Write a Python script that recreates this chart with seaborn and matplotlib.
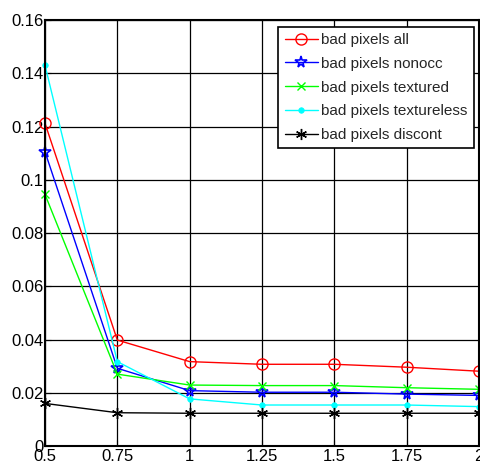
import matplotlib
matplotlib.use("Agg")
import matplotlib.pyplot as plt
import seaborn as sns
import pandas as pd

x = [0.5, 0.75, 1.0, 1.25, 1.5, 1.75, 2.0]
bad_all = [0.1212, 0.0398, 0.0317, 0.0307, 0.0307, 0.0296, 0.0281]
bad_nonocc = [0.1105, 0.0292, 0.0208, 0.0202, 0.0202, 0.0195, 0.0190]
bad_textured = [0.0945, 0.0270, 0.0229, 0.0227, 0.0227, 0.0219, 0.0213]
bad_textureless = [0.1430, 0.0317, 0.0177, 0.0154, 0.0154, 0.0154, 0.0148]
bad_discont = [0.0160, 0.0125, 0.0123, 0.0123, 0.0123, 0.0123, 0.0123]
names = ["bad pixels all", "bad pixels nonocc", "bad pixels textured",
         "bad pixels textureless", "bad pixels discont"]
xticklabels = ["0.5", "0.75", "1", "1.25", "1.5", "1.75", "2"]
yticks = [0, 0.02, 0.04, 0.06, 0.08, 0.1, 0.12, 0.14, 0.16]
yticklabels = ["0", "0.02", "0.04", "0.06", "0.08", "0.1", "0.12", "0.14", "0.16"]

series = [bad_all, bad_nonocc, bad_textured, bad_textureless, bad_discont]
rows = []
for n, vals in zip(names, series):
    for xi, v in zip(x, vals):
        rows.append({"x": xi, "y": v, "series": n})
df = pd.DataFrame(rows)

sns.set_style("white")
plt.rcParams["font.family"] = ["Liberation Sans", "DejaVu Sans"]

colors = ["#ff0000", "#0000ff", "#00ff00", "#00ffff", "#000000"]
styles = [
    dict(marker="o", markersize=8, markerfacecolor="none", markeredgewidth=1.0),
    dict(marker="*", markersize=8.5, markerfacecolor="none", markeredgewidth=1.2),
    dict(marker="x", markersize=6, markeredgewidth=1.0),
    dict(marker="o", markersize=4, markeredgewidth=0.5),
    dict(marker=(6, 2, 0), markersize=8, markeredgewidth=1.0),
]

fig = plt.figure(figsize=(4.81, 4.66), dpi=100)
ax = fig.add_axes([0.0936, 0.0429, 0.902, 0.914])

for n, c, st in zip(names, colors, styles):
    sub = df[df["series"] == n]
    sns.lineplot(data=sub, x="x", y="y", ax=ax, color=c, linewidth=1.0,
                 label=n, markeredgecolor=c, clip_on=False, **st)
    if st.get("markerfacecolor") != "none":
        ax.lines[-1].set_markerfacecolor(c)

ax.set_xlim(0.5, 2.0)
ax.set_ylim(0, 0.16)
ax.set_xticks(x)
ax.set_xticklabels(xticklabels)
ax.set_yticks(yticks)
ax.set_yticklabels(yticklabels)
ax.set_xlabel("")
ax.set_ylabel("")
ax.grid(True, color="black", linewidth=0.9, linestyle="-")
ax.set_axisbelow(True)
for s in ax.spines.values():
    s.set_color("black")
    s.set_linewidth(1.5)
ax.tick_params(axis="both", direction="in", length=4, labelsize=12,
               colors="black", left=True, bottom=True)
ax.tick_params(axis="x", pad=2)
ax.tick_params(axis="y", pad=1)

leg = ax.legend(loc="upper right", bbox_to_anchor=(0.988, 0.984),
                fontsize=11, frameon=True, fancybox=False, framealpha=1,
                edgecolor="black", borderpad=0.4, labelspacing=0.64,
                handlelength=2.2, handletextpad=0.2, borderaxespad=0.0)
leg.get_frame().set_linewidth(1.2)
for h, c in zip(leg.legend_handles, colors):
    h.set_markeredgecolor(c)

fig.savefig("out.png", dpi=100)
